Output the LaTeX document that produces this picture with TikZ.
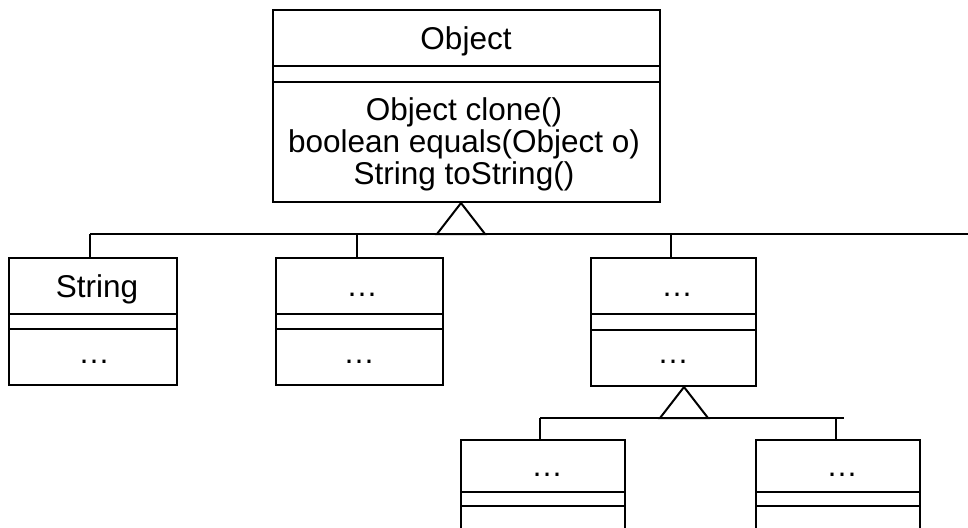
\documentclass[tikz,border=0pt]{standalone}
\usepackage{fontspec}
\setmainfont{Liberation Sans}
\begin{document}
\begin{tikzpicture}[x=1pt,y=-1pt,
  cls/.style={draw=black,line width=2pt,rectangle,inner sep=0pt,fill=none},
  lbl/.style={inner sep=0pt,anchor=base,font=\fontsize{31.5}{33}\selectfont},
  ln/.style={line width=2pt,draw=black},
  tri/.style={line width=2pt,draw=black,fill=white,line join=miter}]
\useasboundingbox (0,0) rectangle (968,527);
\clip (0,0) rectangle (968,527);
% class boxes
\node[cls,minimum width=387pt,minimum height=192pt] (obj) at (466.5,106) {};
\node[cls,minimum width=168pt,minimum height=127pt] (str) at (93,321.5) {};
\node[cls,minimum width=167pt,minimum height=127pt] (b2) at (359.5,321.5) {};
\node[cls,minimum width=165pt,minimum height=128pt] (b3) at (673.5,322) {};
\node[cls,minimum width=164pt,minimum height=130pt] (b4) at (543,505) {};
\node[cls,minimum width=164pt,minimum height=130pt] (b5) at (838,505) {};
% compartment lines
\draw[ln] (obj.west |- 0,66) -- (obj.east |- 0,66);
\draw[ln] (obj.west |- 0,82) -- (obj.east |- 0,82);
\draw[ln] (str.west |- 0,314) -- (str.east |- 0,314);
\draw[ln] (str.west |- 0,329) -- (str.east |- 0,329);
\draw[ln] (b2.west |- 0,314) -- (b2.east |- 0,314);
\draw[ln] (b2.west |- 0,329) -- (b2.east |- 0,329);
\draw[ln] (b3.west |- 0,314) -- (b3.east |- 0,314);
\draw[ln] (b3.west |- 0,330) -- (b3.east |- 0,330);
\draw[ln] (b4.west |- 0,492) -- (b4.east |- 0,492);
\draw[ln] (b4.west |- 0,506) -- (b4.east |- 0,506);
\draw[ln] (b5.west |- 0,492) -- (b5.east |- 0,492);
\draw[ln] (b5.west |- 0,506) -- (b5.east |- 0,506);
% texts
\node[lbl] (tObj) at (466,49) {Object};
\node[lbl] (m1) at (464,120) {Object clone()};
\node[lbl] (m2) at (464,152) {boolean equals(Object o)};
\node[lbl] (m3) at (464,184) {String toString()};
\node[lbl] (tStr) at (97,297) {String};
\node[lbl] (dStr) at (94,363) {…};
\node[lbl] (t2) at (362,296) {…};
\node[lbl] (d2) at (359,363) {…};
\node[lbl] (t3) at (677,296) {…};
\node[lbl] (d3) at (673,363) {…};
\node[lbl] (t4) at (547,476) {…};
\node[lbl] (t5) at (842,476) {…};
% inheritance: first level
\coordinate (busL) at (90,234);
\coordinate (busR) at (975,234);
\draw[ln] (busL) -- (busR);
\draw[ln] (busL) -- (busL |- str.north);
\draw[ln] (357,234) -- (357,0 |- b2.north);
\draw[ln] (671,234) -- (671,0 |- b3.north);
\coordinate (apex1) at (461,0 |- obj.south);
\draw[tri] (apex1) -- (437,234) -- (485,234) -- cycle;
% inheritance: second level
\coordinate (bus2L) at (540,418);
\coordinate (bus2R) at (844,418);
\draw[ln] (bus2L) -- (bus2R);
\draw[ln] (bus2L) -- (bus2L |- b4.north);
\draw[ln] (836,418) -- (836,0 |- b5.north);
\coordinate (apex2) at (684,0 |- b3.south);
\draw[tri] (apex2) -- (660,418) -- (708,418) -- cycle;
\end{tikzpicture}
\end{document}
